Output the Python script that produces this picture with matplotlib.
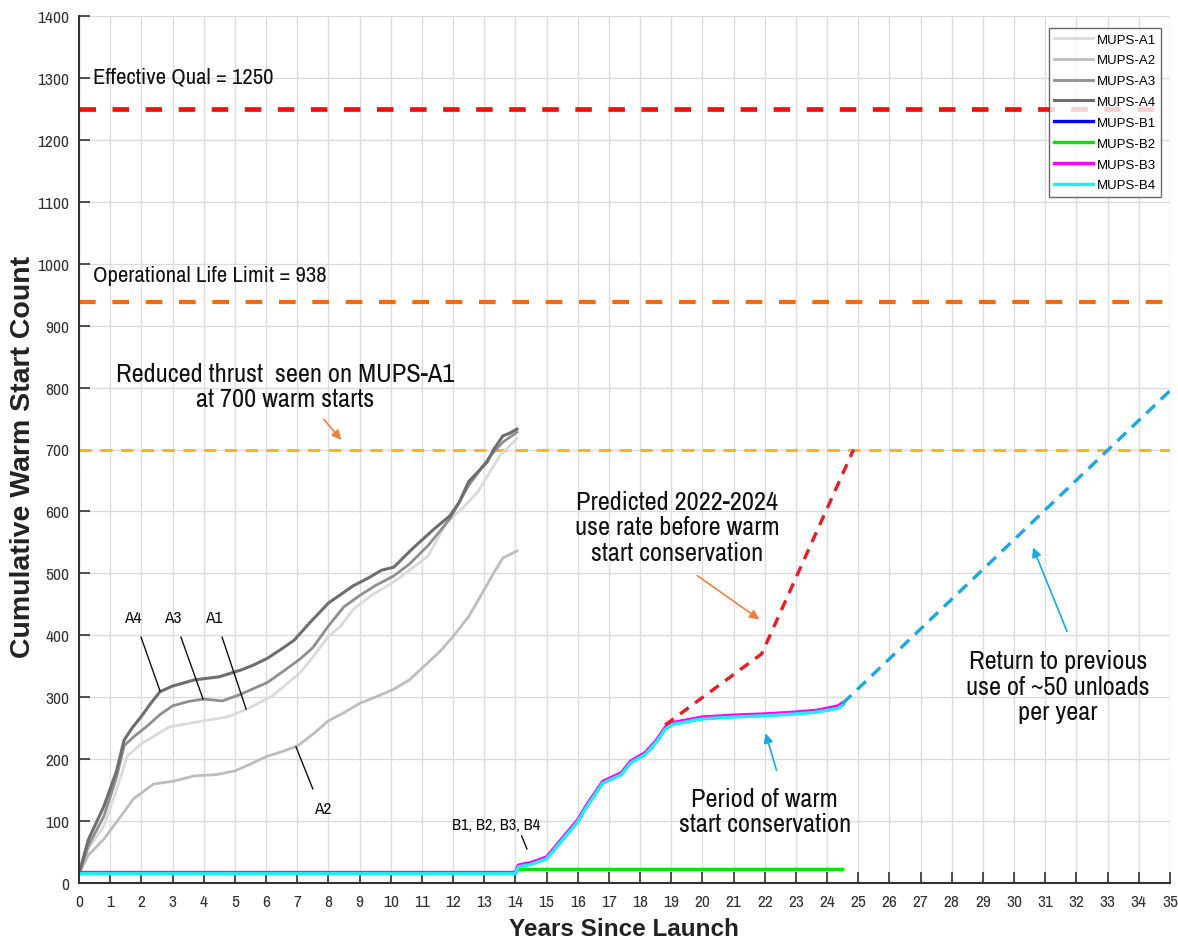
import matplotlib
matplotlib.use("Agg")
import matplotlib.pyplot as plt
from matplotlib import font_manager as fm

# ---------------- data ----------------
a1_x = [0, 0.3, 0.8, 1.2, 1.55, 2.0, 2.9, 4.0, 4.75, 5.4, 6.2, 7.1, 7.5, 8.0, 8.4, 8.8, 9.4, 10.1, 10.6, 11.2, 11.8, 12.3, 12.8, 13.5, 13.8, 14.05]
a1_y = [15, 55, 92, 150, 205, 225, 252, 262, 268, 281, 302, 340, 365, 398, 415, 442, 465, 486, 505, 528, 583, 605, 632, 690, 705, 718]

a2_x = [0, 0.3, 0.8, 1.3, 1.75, 2.4, 3.0, 3.7, 4.4, 5.0, 5.5, 6.0, 6.5, 7.0, 7.5, 8.0, 8.5, 9.0, 9.5, 10.1, 10.6, 11.2, 11.6, 12.0, 12.5, 12.9, 13.3, 13.6, 14.05]
a2_y = [15, 45, 71, 105, 136, 160, 164, 173, 175, 181, 192, 204, 212, 221, 240, 262, 275, 290, 300, 313, 328, 356, 375, 398, 430, 465, 500, 525, 536]

a3_x = [0, 0.3, 0.8, 1.2, 1.45, 1.8, 2.2, 2.6, 3.0, 3.5, 4.0, 4.6, 5.2, 5.6, 6.05, 6.5, 7.1, 7.5, 8.0, 8.5, 9.0, 9.5, 10.1, 10.6, 11.2, 11.9, 12.5, 13.2, 13.6, 14.05]
a3_y = [15, 60, 108, 170, 222, 238, 254, 272, 286, 293, 297, 294, 305, 314, 324, 340, 362, 380, 415, 446, 464, 480, 496, 515, 545, 588, 642, 690, 712, 728]

a4_x = [0, 0.3, 0.8, 1.2, 1.45, 1.7, 2.0, 2.3, 2.6, 3.0, 3.7, 4.5, 5.2, 5.6, 6.05, 6.5, 6.9, 7.4, 8.0, 8.4, 8.8, 9.3, 9.7, 10.1, 10.7, 11.4, 11.9, 12.2, 12.5, 13.1, 13.3, 13.6, 13.8, 14.05]
a4_y = [15, 70, 124, 180, 231, 250, 269, 290, 309, 318, 328, 333, 344, 352, 363, 378, 392, 420, 452, 466, 480, 493, 505, 510, 540, 572, 593, 615, 648, 680, 700, 722, 726, 733]

b_x = [0, 14.0, 14.1, 14.5, 15.0, 15.5, 16.0, 16.3, 16.8, 17.4, 17.7, 18.15, 18.5, 18.8, 19.04, 20, 21, 22, 23, 23.7, 24.35, 24.5]
b1_y = [16, 16, 27, 31, 40, 70, 100, 125, 162, 176, 195, 208, 227, 249, 257, 266, 269, 271, 274, 277, 283, 288]
b3_y = [17, 17, 29, 33, 42, 72, 102, 127, 164, 178, 197, 210, 229, 251, 259, 268, 271, 273, 276, 279, 286, 291]
b4_y = [15, 15, 26, 30, 39, 69, 99, 124, 161, 175, 194, 207, 226, 248, 256, 265, 268, 270, 273, 276, 282, 287]
b2_x = [0, 14.0, 14.1, 24.5]
b2_y = [16, 16, 22, 22]

pred_x = [18.8, 21.9, 24.85]
pred_y = [255, 370, 700]
ret_x = [24.5, 35]
ret_y = [290, 795]

qual_limit = 1250
oper_limit = 938
thrust_limit = 700

x_ticks = list(range(0, 36))
y_ticks = list(range(0, 1401, 100))

# ---------------- fonts ----------------
fonts = fm.fontManager.ttflist
available = {f.name for f in fonts}
narrow_candidates = ['Liberation Sans Narrow', 'Arial Narrow', 'Archivo Narrow', 'PT Sans Narrow',
                     'Roboto Condensed', 'Pragati Narrow', 'Fira Sans Condensed', 'IBM Plex Sans Condensed']
narrow_main = next((n for n in narrow_candidates if n in available), 'Liberation Sans')
narrow = [narrow_main, 'Liberation Sans', 'DejaVu Sans']
arial = ['Liberation Sans', 'DejaVu Sans']
is_narrow = narrow_main != 'Liberation Sans'

fs_ann = 19 if is_narrow else 15.5
fs_ref = 16.4 if is_narrow else 13.5

# ---------------- figure ----------------
fig = plt.figure(figsize=(11.78, 9.45), dpi=100)
ax = fig.add_axes([79/1178, 61/945, 1091/1178, 867/945])

ax.set_xlim(0, 35)
ax.set_ylim(0, 1400)
ax.set_xticks(x_ticks)
ax.set_yticks(y_ticks)
ax.grid(True, color='#dcdcdc', linewidth=1.0)
ax.set_axisbelow(True)
for s in ['top', 'right']:
    ax.spines[s].set_visible(False)
for s in ['left', 'bottom']:
    ax.spines[s].set_color('#333333')
    ax.spines[s].set_linewidth(1.5)
ax.tick_params(direction='in', length=8, width=1.2, color='#333333', labelcolor='#333333')
ax.tick_params(axis='x', pad=8)
ax.tick_params(axis='y', pad=7)
for lab in ax.get_xticklabels() + ax.get_yticklabels():
    lab.set_family(narrow)
    lab.set_fontsize(12.5 if is_narrow else 11)

# limit lines
ax.axhline(qual_limit, color='#f01010', lw=3.4, dashes=(3.5, 3.5))
ax.axhline(oper_limit, color='#f46a10', lw=3.0, dashes=(4, 4))
ax.axhline(thrust_limit, color='#f8b819', lw=2.2, dashes=(4, 2.8))

# A curves
ax.plot(a1_x, a1_y, color='#dadada', lw=2.0, label='MUPS-A1')
ax.plot(a2_x, a2_y, color='#bdbdbd', lw=2.0, label='MUPS-A2')
ax.plot(a3_x, a3_y, color='#8f8f8f', lw=2.0, label='MUPS-A3')
ax.plot(a4_x, a4_y, color='#6e6e6e', lw=2.2, label='MUPS-A4')

# B curves
ax.plot(b_x, b1_y, color='#0000ff', lw=2.4, label='MUPS-B1')
ax.plot(b2_x, b2_y, color='#00e600', lw=2.4, label='MUPS-B2')
ax.plot(b_x, b3_y, color='#ff00ff', lw=2.4, label='MUPS-B3')
ax.plot(b_x, b4_y, color='#19f0f0', lw=2.4, label='MUPS-B4')

# projections
ax.plot(pred_x, pred_y, color='#ea1c24', lw=2.4, dashes=(3.2, 2.4))
ax.plot(ret_x, ret_y, color='#1aa8e0', lw=2.4, dashes=(3.6, 2.4))

# texts
ax.text(0.45, 1302, 'Effective Qual = 1250', family=narrow, fontsize=fs_ref, color='#111111', va='center', ha='left')
ax.text(0.45, 981, 'Operational Life Limit = 938', family=narrow, fontsize=fs_ref, color='#111111', va='center', ha='left')
ax.text(6.6, 803, 'Reduced thrust  seen on MUPS-A1\nat 700 warm starts', family=narrow, fontsize=fs_ann,
        color='#111111', va='center', ha='center', linespacing=1.12)
ax.annotate('', xy=(8.47, 712), xytext=(7.8, 752),
            arrowprops=dict(arrowstyle='-|>', color='#ee8040', lw=1.2, mutation_scale=14))
ax.text(19.2, 575, 'Predicted 2022-2024\nuse rate before warm\nstart conservation', family=narrow, fontsize=fs_ann,
        color='#111111', va='center', ha='center', linespacing=1.12)
ax.annotate('', xy=(21.9, 423), xytext=(19.76, 499),
            arrowprops=dict(arrowstyle='-|>', color='#ee8040', lw=1.2, mutation_scale=14))
ax.text(31.4, 318, 'Return to previous\nuse of ~50 unloads\nper year', family=narrow, fontsize=fs_ann,
        color='#111111', va='center', ha='center', linespacing=1.12)
ax.annotate('', xy=(30.57, 546), xytext=(31.73, 402),
            arrowprops=dict(arrowstyle='-|>', color='#1aa8e0', lw=1.2, mutation_scale=14))
ax.text(22.0, 116, 'Period of warm\nstart conservation', family=narrow, fontsize=fs_ann,
        color='#111111', va='center', ha='center', linespacing=1.12)
ax.annotate('', xy=(22.0, 246), xytext=(22.4, 178),
            arrowprops=dict(arrowstyle='-|>', color='#1aa8e0', lw=1.2, mutation_scale=14))

for lbl, tx, lx0, ly0, lx1, ly1 in [('A4', 1.73, 1.99, 397, 2.6, 310),
                                     ('A3', 3.0, 3.27, 397, 3.98, 297),
                                     ('A1', 4.33, 4.59, 397, 5.36, 281)]:
    ax.text(tx, 428, lbl, family=narrow, fontsize=12.5, color='#111111', ha='center', va='center')
    ax.plot([lx0, lx1], [ly0, ly1], color='#111111', lw=1.0)
ax.text(7.83, 120, 'A2', family=narrow, fontsize=12.5, color='#111111', ha='center', va='center')
ax.plot([6.96, 7.5], [220, 152], color='#111111', lw=1.0)
ax.text(13.38, 95, 'B1, B2, B3, B4', family=narrow, fontsize=11.8, color='#111111', ha='center', va='center')
ax.plot([14.2, 14.37], [76, 55], color='#111111', lw=1.0)

ax.set_xlabel('Years Since Launch', family=arial, fontsize=17.5, fontweight='bold', color='#222222')
ax.xaxis.set_label_coords(0.4995, -0.053)
ax.xaxis.label.set_va('center')
ax.set_ylabel('Cumulative Warm Start Count', family=arial, fontsize=20.5, fontweight='bold', color='#222222')
ax.yaxis.set_label_coords(-0.039, 0.4925)

leg = ax.legend(loc='upper right', bbox_to_anchor=(0.992, 0.986), prop={'family': arial, 'size': 9.5},
                frameon=True, fancybox=False, handlelength=2.95, handletextpad=0.3, labelspacing=0.65,
                borderpad=0.4, borderaxespad=0)
leg.get_frame().set_edgecolor('#444444')
leg.get_frame().set_linewidth(1.0)

fig.savefig('out.png', dpi=100)
